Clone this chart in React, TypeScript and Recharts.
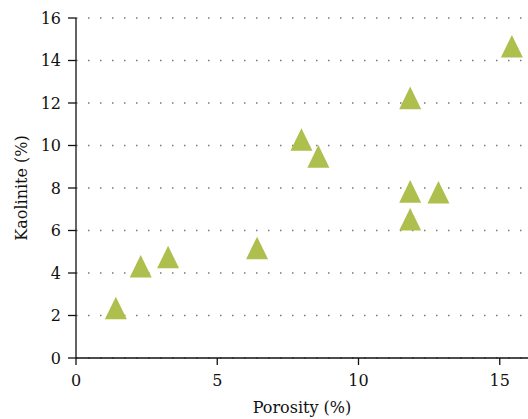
import React from "react";
import {
  ScatterChart,
  Scatter,
  XAxis,
  YAxis,
  CartesianGrid
} from "recharts";

// porosity (%) vs kaolinite (%)
const porosity = [1.41, 2.29, 3.26, 6.41, 7.98, 8.58, 11.83, 11.83, 12.83, 11.83, 15.43];
const kaolinite = [2.35, 4.32, 4.75, 5.18, 10.28, 9.49, 12.24, 7.84, 7.8, 6.53, 14.67];
const xTicks = [0, 5, 10, 15];
const yTicks = [0, 2, 4, 6, 8, 10, 12, 14, 16];

const points = porosity.map((p, i) => ({ porosity: p, kaolinite: kaolinite[i] }));

const FONT = "'DejaVu Serif', 'Liberation Serif', serif";

const Triangle = (props: any) => {
  const { cx, cy } = props;
  const w = 11;
  const h = 11.3;
  return (
    <polygon
      points={`${cx},${cy - h} ${cx - w},${cy + h} ${cx + w},${cy + h}`}
      fill="#aebf4d"
    />
  );
};

const XTitle = (props: any) => {
  const vb = props.viewBox || {};
  return (
    <text
      x={vb.x + vb.width / 2}
      y={413}
      textAnchor="middle"
      style={{ fontFamily: FONT, fontSize: 16 }}
      fill="#111"
    >
      Porosity (%)
    </text>
  );
};

const YTitle = (props: any) => {
  const vb = props.viewBox || {};
  const x = 27;
  const y = vb.y + vb.height / 2;
  return (
    <text
      x={x}
      y={y}
      transform={`rotate(-90, ${x}, ${y})`}
      textAnchor="middle"
      style={{ fontFamily: FONT, fontSize: 16 }}
      fill="#111"
    >
      Kaolinite (%)
    </text>
  );
};

const tickStyle = { fill: "#111", fontSize: 16, style: { fontFamily: FONT } };

export default function App() {
  return (
    <div style={{ position: "absolute", left: 0, top: 0, width: 528, height: 419, background: "#fff", fontFamily: FONT }}>
      <ScatterChart
        width={528}
        height={419}
        margin={{ top: 18, right: 0, left: 0, bottom: 0 }}
        style={{ fontFamily: FONT }}
      >
        <CartesianGrid
          vertical={false}
          stroke="#777"
          strokeWidth={1.5}
          strokeDasharray="1.5 10.5"
        />
        <XAxis
          type="number"
          dataKey="porosity"
          domain={[0, 16]}
          ticks={xTicks}
          height={61}
          tickSize={7}
          tickMargin={10}
          stroke="#111"
          strokeWidth={1.3}
          tick={tickStyle}
          label={<XTitle />}
        />
        <YAxis
          type="number"
          dataKey="kaolinite"
          domain={[0, 16]}
          ticks={yTicks}
          width={76}
          tickSize={8}
          tickMargin={7}
          stroke="#111"
          strokeWidth={1.3}
          tick={tickStyle}
          label={<YTitle />}
        />
        <Scatter data={points} shape={<Triangle />} isAnimationActive={false} />
      </ScatterChart>
    </div>
  );
}
